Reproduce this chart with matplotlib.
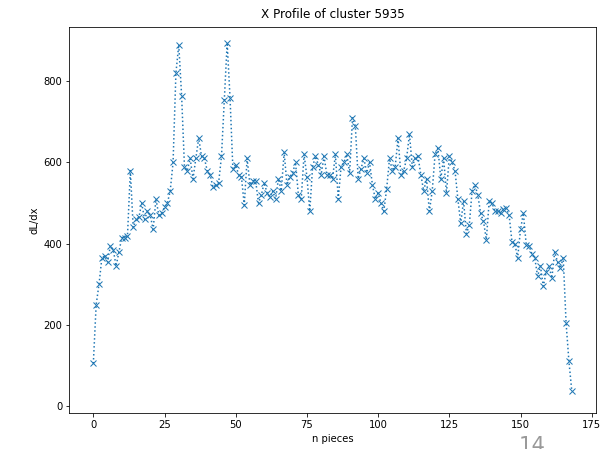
import numpy as np
import matplotlib
matplotlib.use('Agg')
import matplotlib.pyplot as plt

# dL/dx per piece along the X profile of the cluster
dl_dx = [
    105, 250, 300, 365, 370, 355, 395, 385, 345, 380,
    415, 415, 420, 580, 440, 460, 465, 500, 460, 480,
    470, 435, 510, 470, 475, 490, 500, 530, 600, 820,
    890, 765, 590, 580, 610, 560, 610, 660, 615, 610,
    580, 570, 540, 545, 550, 615, 755, 895, 760, 585,
    595, 570, 565, 495, 610, 545, 555, 555, 500, 520,
    550, 525, 515, 530, 510, 560, 530, 625, 545, 565,
    575, 600, 520, 510, 620, 565, 480, 590, 615, 595,
    570, 615, 570, 570, 560, 620, 510, 590, 600, 620,
    575, 710, 690, 560, 585, 610, 575, 600, 545, 510,
    525, 500, 480, 535, 610, 580, 590, 660, 570, 580,
    610, 670, 590, 610, 615, 570, 530, 560, 480, 530,
    620, 635, 560, 610, 525, 615, 600, 580, 510, 450,
    505, 425, 445, 530, 545, 520, 475, 455, 410, 505,
    500, 480, 480, 475, 485, 487, 470, 405, 400, 365,
    435, 475, 398, 395, 375, 365, 320, 345, 295, 330,
    345, 315, 380, 355, 340, 365, 205, 110, 38,
]
n_pieces = np.arange(len(dl_dx))

DPI = 72
W, H = 606, 449
fig = plt.figure(figsize=(W / DPI, H / DPI), dpi=DPI)
ax = fig.add_axes([69.4 / W, 1 - 413 / H, (595.7 - 69.4) / W, (413 - 27.3) / H])

ax.plot(n_pieces, dl_dx, linestyle=':', marker='x', color='C0')
ax.set_ylim(-17, 933)
ax.set_title('X Profile of cluster 5935', pad=9)
ax.set_xlabel('n pieces')
ax.set_ylabel('dL/dx')

# page number peeking in at the bottom edge
fig.text(519 / W, 1 - 436 / H, '14', va='top', ha='left',
         fontsize=21, color='#999999')

fig.savefig('out.png', dpi=DPI)
